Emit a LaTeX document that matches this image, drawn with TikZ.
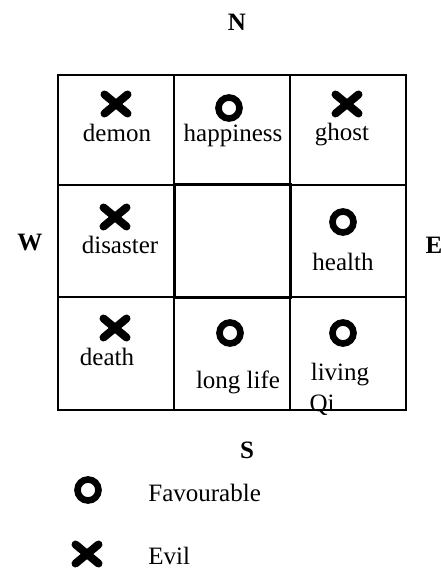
\documentclass[tikz,border=0pt]{standalone}
\usepackage{fontspec}
\setmainfont{Liberation Serif}
\begin{document}
\begin{tikzpicture}[x=0.5pt,y=-0.5pt,
  lbl/.style={font=\fontsize{12.5}{13}\selectfont, inner sep=0pt},
  dir/.style={font=\fontsize{12.5}{13}\selectfont\bfseries, inner sep=0pt},
  good/.pic={\draw[line width=3.3pt] (0,0) circle (10.5);},
  bad/.pic={\draw[line width=4pt, line cap=round] (-11.5,-9.5) -- (11.5,9.5) (-11.5,9.5) -- (11.5,-9.5);}]
  \useasboundingbox (0,0) rectangle (440,571);
  % Raster
  \draw[line width=1pt] (58,75) rectangle (406,410);
  \draw[line width=1pt] (174,75) -- (174,410) (290,75) -- (290,410);
  \draw[line width=1pt] (58,185) -- (406,185) (58,297) -- (406,297);
  \draw[line width=1.5pt] (174,185) rectangle (290,297);
  
  % Himmelsrichtungen
  \node[dir] (north) at (237,22) {N};
  \node[dir] (west) at (30,243) {W};
  \node[dir] (east) at (434,245) {E};
  \node[dir] (south) at (247,450) {S};
  
  % Felder
  \pic at (116,104) {bad};  \node[lbl] (demon) at (117,133) {demon};
  \pic at (229,108) {good}; \node[lbl] (happy) at (233,135) {happiness};
  \pic at (347,104) {bad};  \node[lbl] (ghost) at (342,135) {ghost};
  \pic at (115,217) {bad};  \node[lbl] (disaster) at (120,245) {disaster};
  \pic at (343,222) {good}; \node[lbl] (health) at (343,262) {health};
  \pic at (115,328) {bad};  \node[lbl] (death) at (107,357) {death};
  \pic at (230,333) {good}; \node[lbl] (longlife) at (238,382) {long life};
  \pic at (343,333) {good}; \node[lbl] (living) at (340,375) {living};
  \node[lbl] (qi) at (322,405) {Qi};
  
  % Legende
  \pic at (88,490) {good};
  \pic at (87,554) {bad};
  \node[lbl, anchor=west] (fav) at (148,493) {Favourable};
  \node[lbl, anchor=west] (evil) at (148,556) {Evil};
\end{tikzpicture}
\end{document}
